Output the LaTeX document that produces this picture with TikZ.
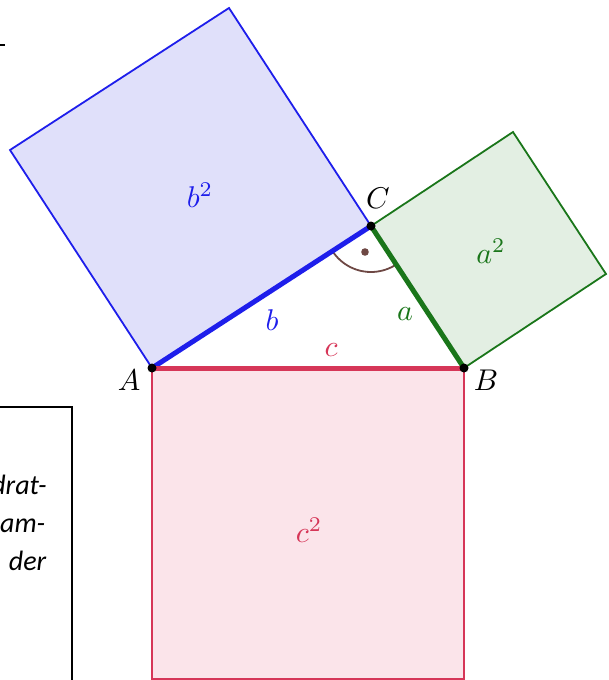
\documentclass[tikz,border=0pt]{standalone}
\usepackage{fontspec}
\newfontfamily\boxfont{Carlito}
\newcommand{\glab}[1]{\scalebox{3.0}{$#1$}}
\begin{document}
\begin{tikzpicture}[x=1pt,y=-1pt,
  edge/.style={line width=1.8pt, line join=miter},
  side/.style={line width=5pt, line cap=butt},
  pt/.style={circle, fill=black, inner sep=0pt, minimum size=9pt},
  lbl/.style={inner sep=0pt},
  boxtxt/.style={font=\boxfont\itshape\fontsize{28}{34}\selectfont, anchor=base east, inner sep=0pt}]
\definecolor{bblue}{RGB}{30,30,235}
\definecolor{bfill}{RGB}{224,224,250}
\definecolor{agreen}{RGB}{26,118,26}
\definecolor{afill}{RGB}{227,239,227}
\definecolor{cred}{RGB}{214,54,88}
\definecolor{cfill}{RGB}{251,228,234}
\definecolor{abrown}{RGB}{110,72,68}
\useasboundingbox (0,0) rectangle (608,680);
\clip (0,0) rectangle (608,680);
% vertices
\coordinate (A) at (152,368);
\coordinate (B) at (464,368);
\coordinate (C) at (371,226);
\coordinate (B1) at (10,150);
\coordinate (B2) at (229,8);
\coordinate (A1) at (606,274);
\coordinate (A2) at (513,132);
\coordinate (C1) at (464,679);
\coordinate (C2) at (152,679);
% squares
\filldraw[edge, draw=bblue, fill=bfill] (A) -- (B1) -- (B2) -- (C) -- cycle;
\filldraw[edge, draw=agreen, fill=afill] (C) -- (A2) -- (A1) -- (B) -- cycle;
\filldraw[edge, draw=cred, fill=cfill] (A) -- (B) -- (C1) -- (C2) -- cycle;
% right angle mark
\draw[abrown, line width=1.8pt] (C) ++(147:46) arc[start angle=147, end angle=56.8, radius=46];
\fill[abrown] (365,252) circle (3.8pt);
% triangle sides
\draw[side, bblue] (A) -- (C);
\draw[side, agreen] (C) -- (B);
\draw[side, cred] (A) -- (B);
% points
\node[pt] (pA) at (A) {};
\node[pt] (pB) at (B) {};
\node[pt] (pC) at (C) {};
% labels
\node[lbl] (lA) at (129,380) {\glab{A}};
\node[lbl] (lB) at (486,380) {\glab{B}};
\node[lbl] (lC) at (378,198) {\glab{C}};
\node[lbl, text=bblue] (lb) at (272,320) {\glab{b}};
\node[lbl, text=agreen] (la) at (405,314) {\glab{a}};
\node[lbl, text=cred] (lc) at (331,350) {\glab{c}};
\node[lbl, text=bblue] (lb2) at (200,195) {\glab{b^2}};
\node[lbl, text=agreen] (la2) at (491,251) {\glab{a^2}};
\node[lbl, text=cred] (lc2) at (309,530) {\glab{c^2}};
% text box (cropped)
\draw[line width=1.8pt] (-20,407) -- (72,407) -- (72,700);
\node[boxtxt] (t1) at (47,494) {drat-};
\node[boxtxt] (t2) at (45.5,532) {am-};
\node[boxtxt] (t3) at (46.5,570) {der};
% stray mark at top left
\draw[line width=1.8pt] (0,45) -- (5,45);
\end{tikzpicture}
\end{document}
